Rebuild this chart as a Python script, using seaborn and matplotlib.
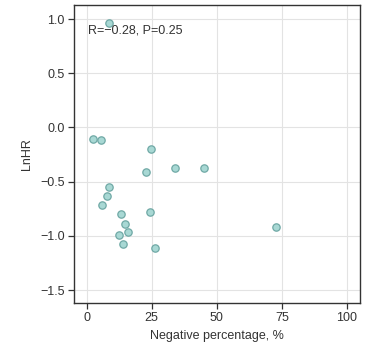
import matplotlib
matplotlib.use("Agg")
import matplotlib.pyplot as plt
import seaborn as sns
import pandas as pd

neg_pct = [8.8, 2.3, 5.6, 24.8, 22.7, 34.0, 45.1, 8.8, 7.9, 5.9, 13.1, 24.3, 14.7, 16.1, 12.5, 14.1, 26.1, 72.6]
lnhr = [0.966, -0.105, -0.117, -0.197, -0.415, -0.37, -0.37, -0.545, -0.634, -0.714, -0.797, -0.776, -0.893, -0.967, -0.994, -1.077, -1.111, -0.918]
x_ticks = [0, 25, 50, 75, 100]
y_ticks = [1.0, 0.5, 0.0, -0.5, -1.0, -1.5]
annotation = "R=\u22120.28, P=0.25"

df = pd.DataFrame({"x": neg_pct, "y": lnhr})

sns.set_theme(style="whitegrid")
plt.rcParams["font.family"] = ["Liberation Sans", "DejaVu Sans"]
plt.rcParams["axes.unicode_minus"] = True

fig, ax = plt.subplots(figsize=(3.66, 3.52), dpi=100)
fig.subplots_adjust(left=0.203, right=0.983, top=0.986, bottom=0.14)

sns.scatterplot(data=df, x="x", y="y", ax=ax, s=28, color="#a8d8d4",
                edgecolor="#6fa8a5", linewidth=0.9, zorder=3)

ax.set_xlim(-4.7, 104.9)
ax.set_ylim(-1.617, 1.13)
ax.set_xticks(x_ticks)
ax.set_xticklabels([str(t) for t in x_ticks])
ax.set_yticks(y_ticks)
ax.set_yticklabels([f"{t:.1f}".replace("-", "\u2212") for t in y_ticks])

ax.grid(True, color="#e3e3e3", linewidth=0.8)
for sp in ax.spines.values():
    sp.set_color("#333333")
    sp.set_linewidth(1.0)
ax.tick_params(axis="both", which="both", direction="out", length=4, width=0.9,
               color="#333333", labelsize=9, labelcolor="#333333", pad=3,
               bottom=True, left=True)

ax.set_xlabel("Negative percentage, %", fontsize=9, color="#333333", labelpad=4)
ax.set_ylabel("LnHR", fontsize=9, color="#333333", labelpad=5)

ax.text(0.047, 0.913, annotation, transform=ax.transAxes, fontsize=9,
        color="#333333", va="center", ha="left")

fig.savefig("out.png", dpi=100)
